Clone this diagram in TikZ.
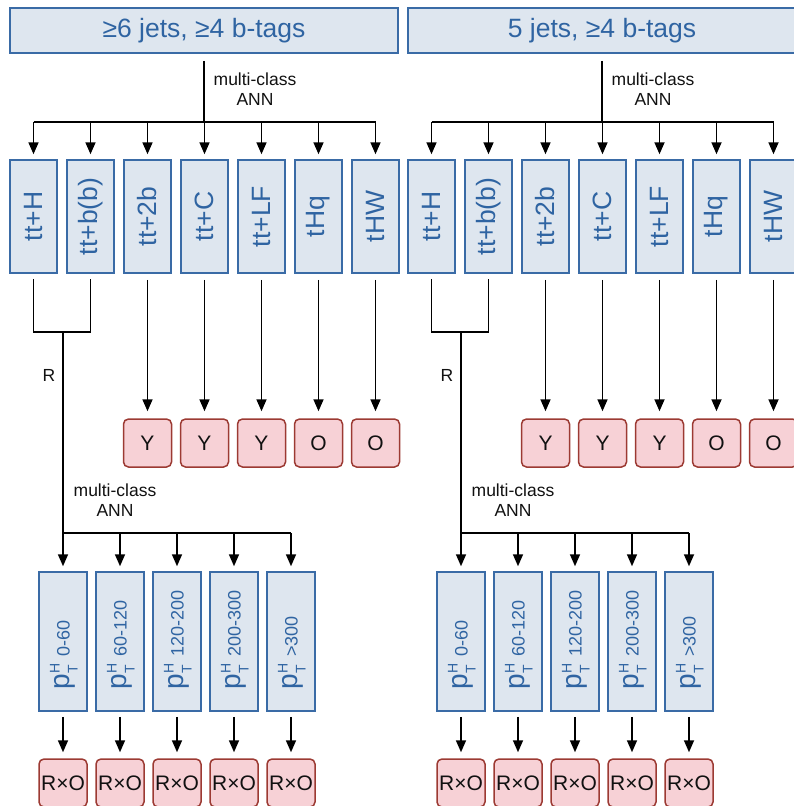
\documentclass[tikz,border=0pt]{standalone}
\usepackage{fontspec}
\setmainfont{Liberation Sans}
\usepackage{graphicx}
\usetikzlibrary{arrows.meta,calc}
\definecolor{bfill}{HTML}{DEE6EF}
\definecolor{bdraw}{HTML}{3A6BA6}
\definecolor{btext}{HTML}{2F64A2}
\definecolor{rfill}{HTML}{F7D1D6}
\definecolor{rdraw}{HTML}{9C3A33}
\definecolor{ink}{HTML}{111111}
\newcommand{\ptlab}[1]{{\fontsize{28}{28}\selectfont p}\hspace{0.5pt}\rlap{\raisebox{10pt}{\fontsize{14}{14}\selectfont H}}\raisebox{-8pt}{\makebox[10.1pt][l]{\fontsize{14}{14}\selectfont T}}\hspace{7pt}{\fontsize{18}{20}\selectfont #1}}
\begin{document}
\begin{tikzpicture}[x=1pt,y=-1pt,
  bluebox/.style={draw=bdraw, fill=bfill, line width=1.5pt, inner sep=0pt},
  titlebox/.style={bluebox, minimum width=388pt, minimum height=45pt, text=btext, font=\fontsize{26.5}{30}\selectfont},
  catbox/.style={bluebox, minimum width=47pt, minimum height=113pt},
  cattext/.style={text=btext, inner sep=0pt, font=\fontsize{26.5}{30}\selectfont},
  ptbox/.style={bluebox, minimum width=48pt, minimum height=139pt},
  pttext/.style={text=btext, inner sep=0pt},
  redbox/.style={draw=rdraw, fill=rfill, line width=1.5pt, rounded corners=5pt, minimum width=48pt, minimum height=48pt, inner sep=0pt, text=ink, font=\fontsize{21}{24}\selectfont},
  lab/.style={text=ink, inner sep=0pt, align=center, font=\fontsize{17.5}{20}\selectfont},
  line/.style={draw=black, line width=1.7pt},
  arr/.style={line, -{Triangle[length=12pt,width=10pt]}}
]
\useasboundingbox (0,0) rectangle (793,806);
\foreach \s/\ttl in {0/{≥6 jets, ≥4 b-tags},1/{5 jets, ≥4 b-tags}}{
\begin{scope}[xshift=\s*398pt]
  \node[titlebox] (top\s) at (204,30.5) {\ttl};
  \foreach \cl [count=\k from 0] in {tt+H,tt+b(b),tt+2b,tt+C,tt+LF,tHq,tHW}{
    \node[catbox] (c\s\k) at ({33.5+57*\k},216.5) {};
    \node[cattext, rotate=90] (ct\s\k) at (c\s\k.center) {\cl};
  }
  \coordinate (j\s) at (204,122);
  \draw[line] ($(top\s.south)+(0,7)$) -- (j\s);
  \draw[line] (j\s -| c\s0) -- (j\s -| c\s6);
  \foreach \k in {0,...,6}{
    \draw[arr] (j\s -| c\s\k) -- ($(c\s\k.north)+(0,-5)$);
  }
  \node[lab] (ml\s) at (255,89) {multi-class\\ANN};
  % Y / O boxes
  \foreach \t [count=\k from 2] in {Y,Y,Y,O,O}{
    \node[redbox] (r\s\k) at (c\s\k |- 0,443) {\t};
    \draw[arr] ($(c\s\k.south)+(0,6)$) -- ($(r\s\k.north)+(0,-7)$);
  }
  % merge of first two classes
  \coordinate (m\s) at (63,331);
  \draw[line] ($(c\s0.south)+(0,5)$) |- ($(c\s1.south)+(0,58)$) -- ($(c\s1.south)+(0,5)$);
  \node[lab] (R\s) at (49,375) {R};
  % pT boxes
  \foreach \rng [count=\k from 0] in {0-60,60-120,120-200,200-300,>300}{
    \node[ptbox] (p\s\k) at ({63+57*\k},641.5) {};
    \node[pttext, rotate=90, anchor=base west] (pl\s\k) at ($(p\s\k.center)+(6.5,48.5)$) {\ptlab{\rng}};
    \node[redbox] (q\s\k) at (p\s\k |- 0,783) {R×O};
    \draw[arr] ($(p\s\k.south)+(0,5)$) -- ($(q\s\k.north)+(0,-6)$);
  }
  \coordinate (b\s) at (63,533);
  \draw[arr] (m\s) -- ($(p\s0.north)+(0,-5)$);
  \draw[line] (b\s) -- (b\s -| p\s4);
  \foreach \k in {1,...,4}{
    \draw[arr] (b\s -| p\s\k) -- ($(p\s\k.north)+(0,-5)$);
  }
  \node[lab] (ml2\s) at (115,500) {multi-class\\ANN};
\end{scope}
}
\end{tikzpicture}
\end{document}
